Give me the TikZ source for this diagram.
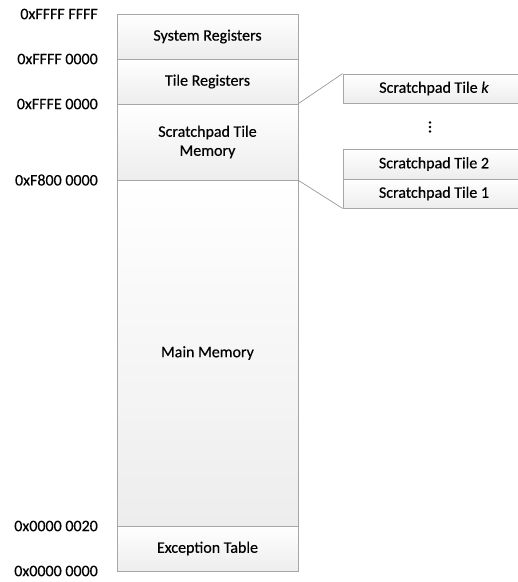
\documentclass[tikz,border=0pt]{standalone}
\usepackage{fontspec}
\setmainfont{Carlito}[FakeBold=0.6]
\newfontfamily\labelfont{Carlito}[FakeBold=0.35]
\usetikzlibrary{shadows}
\definecolor{edgegray}{HTML}{A6A6A6}
\definecolor{fillbot}{HTML}{EDEDED}
\definecolor{linkgray}{HTML}{9A9A9A}
\begin{document}
\begin{tikzpicture}[x=1pt,y=-1pt,
  membox/.style={draw=edgegray, line width=0.8pt, top color=white, bottom color=fillbot,
    drop shadow={shadow xshift=1pt, shadow yshift=-1pt, opacity=0.25, fill=black},
    align=center, inner sep=0pt, font=\labelfont\fontsize{16}{19}\selectfont},
  addr/.style={anchor=east, inner sep=0pt, font=\labelfont\fontsize{16}{19}\selectfont},
  link/.style={draw=linkgray, line width=0.7pt}]
\useasboundingbox (0,0) rectangle (518,582);
\clip (0,0) rectangle (518,582);

% main address-space column
\node[membox, minimum width=181, minimum height=45] (sys)  at (207.5,36.5)  {System Registers};
\node[membox, minimum width=181, minimum height=45] (tile) at (207.5,81.5)  {Tile Registers};
\node[membox, minimum width=181, minimum height=76] (spm)  at (207.5,142)   {Scratchpad Tile\\Memory};
\node[membox, minimum width=181, minimum height=346] (main) at (207.5,353)  {Main Memory};
\node[membox, minimum width=181, minimum height=45] (exc)  at (207.5,548.5) {Exception Table};

% address boundaries
\node[addr] (a1) at (98,14)  {0xFFFF FFFF};
\node[addr] (a2) at (98,59)  {0xFFFF 0000};
\node[addr] (a3) at (98,104) {0xFFFE 0000};
\node[addr] (a4) at (98,180) {0xF800 0000};
\node[addr] (a5) at (98,526) {0x0000 0020};
\node[addr] (a6) at (98,571) {0x0000 0000};

% scratchpad tiles
\node[membox, minimum width=182, minimum height=29] (tk) at (434,88.5)  {Scratchpad Tile \textit{k}};
\node[membox, minimum width=182, minimum height=30] (t2) at (434,164)   {Scratchpad Tile 2};
\node[membox, minimum width=182, minimum height=29] (t1) at (434,193.5) {Scratchpad Tile 1};

% vertical ellipsis
\coordinate (dots) at (430,127);
\fill (430,122.5) circle (1.4) (430,127) circle (1.4) (430,131.5) circle (1.4);

% expansion lines
\draw[link] (spm.north east) -- (tk.north west);
\draw[link] (spm.south east) -- (t1.south west);
\end{tikzpicture}
\end{document}
